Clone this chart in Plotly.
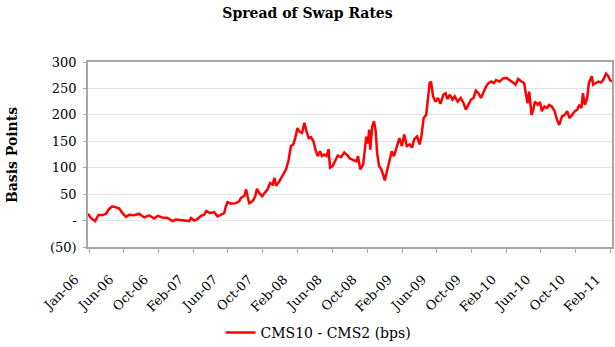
import plotly.graph_objects as go

dates = [
    "2006-01-27", "2006-02-06", "2006-02-21", "2006-03-05", "2006-03-17", "2006-03-31",
    "2006-04-11", "2006-04-22", "2006-05-05", "2006-05-16", "2006-05-28", "2006-06-09",
    "2006-06-20", "2006-07-08", "2006-07-25", "2006-08-12", "2006-08-29", "2006-09-16",
    "2006-09-28", "2006-10-15", "2006-11-02", "2006-11-19", "2006-12-01", "2006-12-19",
    "2007-01-05", "2007-01-17", "2007-01-23", "2007-02-03", "2007-02-15", "2007-02-27",
    "2007-03-10", "2007-03-18", "2007-03-30", "2007-04-14", "2007-04-26", "2007-05-08",
    "2007-05-19", "2007-05-25", "2007-05-31", "2007-06-12", "2007-06-29", "2007-07-11",
    "2007-07-17", "2007-07-29", "2007-08-04", "2007-08-09", "2007-08-15", "2007-08-27",
    "2007-09-05", "2007-09-11", "2007-09-19", "2007-09-29", "2007-10-10", "2007-10-18",
    "2007-10-27", "2007-11-05", "2007-11-11", "2007-11-17", "2007-11-28", "2007-12-10",
    "2007-12-22", "2007-12-31", "2008-01-08", "2008-01-16", "2008-01-23", "2008-01-31",
    "2008-02-06", "2008-02-16", "2008-02-24", "2008-03-01", "2008-03-10", "2008-03-18",
    "2008-03-27", "2008-04-03", "2008-04-11", "2008-04-19", "2008-04-26", "2008-05-04",
    "2008-05-12", "2008-05-19", "2008-05-24", "2008-06-02", "2008-06-12", "2008-06-20",
    "2008-07-02", "2008-07-13", "2008-07-25", "2008-07-31", "2008-08-12", "2008-08-24",
    "2008-08-30", "2008-09-07", "2008-09-17", "2008-09-22", "2008-09-28", "2008-10-04",
    "2008-10-08", "2008-10-12", "2008-10-19", "2008-10-25", "2008-10-31", "2008-11-05",
    "2008-11-12", "2008-11-20", "2008-11-26", "2008-12-02", "2008-12-08", "2008-12-18",
    "2008-12-26", "2009-01-03", "2009-01-13", "2009-01-22", "2009-01-31", "2009-02-08",
    "2009-02-17", "2009-02-27", "2009-03-07", "2009-03-15", "2009-03-25", "2009-04-03",
    "2009-04-09", "2009-04-17", "2009-04-26", "2009-05-01", "2009-05-08", "2009-05-13",
    "2009-05-20", "2009-05-29", "2009-06-06", "2009-06-15", "2009-06-25", "2009-07-03",
    "2009-07-09", "2009-07-18", "2009-07-27", "2009-08-04", "2009-08-14", "2009-08-25",
    "2009-09-04", "2009-09-12", "2009-09-20", "2009-09-30", "2009-10-09", "2009-10-17",
    "2009-10-26", "2009-11-04", "2009-11-14", "2009-11-22", "2009-11-30", "2009-12-10",
    "2009-12-19", "2009-12-27", "2010-01-08", "2010-01-20", "2010-02-01", "2010-02-13",
    "2010-02-25", "2010-03-05", "2010-03-14", "2010-03-26", "2010-04-04", "2010-04-10",
    "2010-04-16", "2010-04-22", "2010-04-30", "2010-05-06", "2010-05-12", "2010-05-22",
    "2010-05-30", "2010-06-05", "2010-06-14", "2010-06-23", "2010-07-01", "2010-07-10",
    "2010-07-20", "2010-07-28", "2010-08-05", "2010-08-15", "2010-08-24", "2010-09-02",
    "2010-09-10", "2010-09-19", "2010-09-29", "2010-10-07", "2010-10-15", "2010-10-22",
    "2010-10-27", "2010-11-03", "2010-11-11", "2010-11-17", "2010-11-27", "2010-12-02",
    "2010-12-11", "2010-12-20", "2010-12-29", "2011-01-06", "2011-01-16", "2011-01-23",
    "2011-01-30", "2011-02-06",
]

spread_bps = [
    13, 5, -1, 11, 10, 13,
    22, 27, 25, 23, 14, 7,
    11, 10, 13, 6, 10, 4,
    9, 6, 5, -1, 2, 1,
    1, -1, 5, 0, 3, 9,
    11, 18, 14, 16, 8, 11,
    14, 27, 35, 32, 33, 37,
    43, 47, 59, 46, 33, 37,
    46, 60, 52, 46, 54, 59,
    71, 68, 81, 66, 74, 87,
    97, 115, 141, 144, 156, 175,
    169, 166, 185, 172, 156, 158,
    150, 134, 122, 131, 122, 125,
    122, 135, 100, 103, 115, 123,
    120, 129, 123, 118, 115, 112,
    122, 97, 106, 134, 159, 146,
    172, 134, 178, 188, 169, 128,
    103, 97, 84, 76, 90, 115,
    131, 122, 141, 156, 141, 163,
    141, 144, 138, 154, 159, 144,
    159, 194, 200, 229, 260, 263,
    235, 225, 232, 221, 238, 241,
    230, 238, 229, 235, 225, 232,
    222, 210, 219, 229, 232, 246,
    241, 232, 244, 254, 260, 263,
    260, 266, 263, 269, 270, 266,
    261, 257, 268, 263, 260, 241,
    222, 244, 200, 210, 225, 219,
    224, 207, 216, 213, 219, 216,
    207, 191, 181, 197, 200, 207,
    194, 200, 207, 210, 219, 213,
    241, 219, 232, 260, 273, 257,
    260, 263, 261, 266, 278, 274,
    266, 263,
]

tick_dates = [
    "2006-01-31", "2006-06-01", "2006-10-01", "2007-02-01", "2007-06-01", "2007-10-01",
    "2008-02-01", "2008-06-01", "2008-10-01", "2009-02-01", "2009-06-01", "2009-10-01",
    "2010-02-01", "2010-06-01", "2010-10-01", "2011-02-01",
]
tick_labels = [
    "Jan-06", "Jun-06", "Oct-06", "Feb-07", "Jun-07", "Oct-07", "Feb-08", "Jun-08",
    "Oct-08", "Feb-09", "Jun-09", "Oct-09", "Feb-10", "Jun-10", "Oct-10", "Feb-11",
]
y_ticks = [-50, 0, 50, 100, 150, 200, 250, 300]
y_labels = ["(50)", "-", "50", "100", "150", "200", "250", "300"]

series_name = "CMS10 - CMS2 (bps)"
title_text = "Spread of Swap Rates"
y_title = "Basis Points"

SERIF = "DejaVu Serif"

fig = go.Figure()
fig.add_trace(go.Scatter(
    x=dates, y=spread_bps, mode="lines", name=series_name,
    line=dict(color="#ff0000", width=2.5),
))

fig.update_layout(
    width=615, height=347,
    margin=dict(l=88, r=3, t=62, b=100, autoexpand=False),
    paper_bgcolor="white", plot_bgcolor="white",
    title=dict(text=f"<b>{title_text}</b>", x=0.5, xanchor="center",
               y=1 - 13 / 347, yanchor="middle",
               font=dict(family=SERIF, size=14, color="black")),
    showlegend=True,
    legend=dict(orientation="h", x=0.44, xanchor="center",
                yref="container", y=1 - 333 / 347, yanchor="middle",
                font=dict(family=SERIF, size=14, color="black"),
                bgcolor="rgba(0,0,0,0)"),
    font=dict(family=SERIF, size=12, color="black"),
)

fig.update_xaxes(
    type="date", range=["2006-01-27", "2011-02-06"],
    tickmode="array", tickvals=tick_dates, ticktext=tick_labels,
    tickangle=-45, tickfont=dict(family=SERIF, size=13, color="black"),
    ticklabelstandoff=14, ticklabelshift=-14, ticklabeloverflow="allow",
    ticks="outside", ticklen=4, tickcolor="#a6a6a6",
    showgrid=False, showline=True, linecolor="#a6a6a6", linewidth=1.5,
    mirror=True, zeroline=False,
)
fig.update_yaxes(
    range=[-50, 300], tickmode="array", tickvals=y_ticks, ticktext=y_labels,
    tickfont=dict(family=SERIF, size=13, color="black"),
    ticklabelstandoff=4,
    ticks="outside", ticklen=3, tickcolor="#a6a6a6",
    showgrid=True, gridcolor="#e3e3e3", gridwidth=1,
    showline=True, linecolor="#a6a6a6", linewidth=1.5, mirror=True,
    zeroline=False,
)

fig.add_annotation(
    text=f"<b>{y_title}</b>", textangle=-90, xref="paper", yref="paper",
    x=-0.145, y=0.497, xanchor="center", yanchor="middle", showarrow=False,
    font=dict(family=SERIF, size=14, color="black"),
)

fig.write_html("out.html")
